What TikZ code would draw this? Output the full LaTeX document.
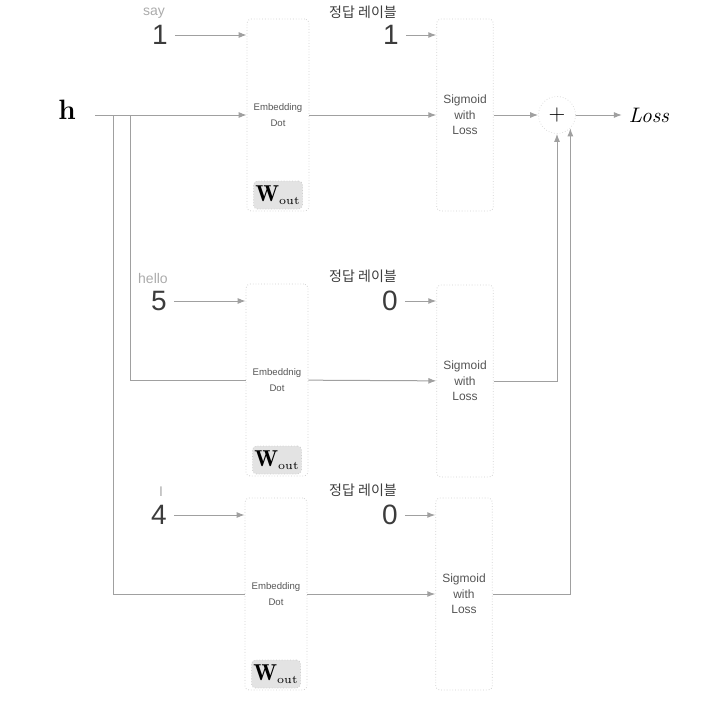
\documentclass[tikz,border=0pt]{standalone}
\usepackage{fontspec}
\setsansfont{Liberation Sans}
\newfontfamily\korfont{Noto Sans CJK KR}
\usetikzlibrary{positioning,arrows.meta,calc}
\definecolor{linegray}{HTML}{A0A0A0}
\definecolor{boxgray}{HTML}{CFCFCF}
\definecolor{textgray}{HTML}{555555}
\definecolor{numgray}{HTML}{3C3C3C}
\definecolor{wordgray}{HTML}{ABABAB}
\definecolor{wfill}{HTML}{E3E3E3}

\begin{document}
\begin{tikzpicture}[x=0.5pt,y=-0.5pt,
	line/.style={draw=linegray, line width=0.5pt},
	arr/.style={line, -{Latex[length=4pt,width=3pt]}},
	layer/.style={rectangle, rounded corners=2pt, draw=boxgray, densely dotted, minimum width=27.5pt, minimum height=96pt, align=center, text=textgray},
	embfont/.style={font=\sffamily\fontsize{4.8}{8}\selectfont},
	sigfont/.style={font=\sffamily\fontsize{6}{7.8}\selectfont},
	wbox/.style={rectangle, rounded corners=2pt, draw=boxgray, densely dotted, fill=wfill, minimum width=24.5pt, minimum height=14pt, inner sep=0pt, font=\fontsize{11.5}{11.5}\selectfont},
	num/.style={font=\sffamily\fontsize{14}{14}\selectfont, text=numgray},
	word/.style={font=\sffamily\fontsize{7}{7}\selectfont, text=wordgray},
	kor/.style={font=\korfont\fontsize{7}{7}\selectfont, text=numgray},
	sumnode/.style={circle, draw=boxgray!70, densely dotted, minimum size=18.5pt, inner sep=0pt, font=\fontsize{11}{11}\selectfont}
	]
	\useasboundingbox (0,0) rectangle (728,712);

	% input h
	\node [font=\fontsize{14}{14}\selectfont\bfseries] (h) at (67,110) {h};
	\coordinate (hs) at (95,115);
	\coordinate (br1) at (113,115);
	\coordinate (br2) at (130,115);

	% row 1 : say
	\node [layer, embfont] (emb1) at (278,115) {Embedding\\Dot};
	\node [wbox, above = 1pt of emb1.south] (w1) {$\mathbf{W}_{\scriptscriptstyle\mathrm{out}}$};
	\node [layer, sigfont] (sig1) at (465,115) {Sigmoid\\with\\Loss};
	\node [word] (say) at (154,13) {say};
	\node [num] (num1) at (160,35) {1};
	\node [kor] (kor1) at (363,12) {정답 레이블};
	\node [num] (lab1) at (391,35) {1};

	% row 2 : hello
	\node [layer, embfont] (emb2) at (277,380) {Embeddnig\\Dot};
	\node [wbox, above = 1pt of emb2.south] (w2) {$\mathbf{W}_{\scriptscriptstyle\mathrm{out}}$};
	\node [layer, sigfont] (sig2) at (465,381) {Sigmoid\\with\\Loss};
	\node [word] (hello) at (153,278) {hello};
	\node [num] (num2) at (159,301) {5};
	\node [kor] (kor2) at (363,276) {정답 레이블};
	\node [num] (lab2) at (390,301) {0};

	% row 3 : I
	\node [layer, embfont] (emb3) at (276,594) {Embedding\\Dot};
	\node [wbox, above = 1pt of emb3.south] (w3) {$\mathbf{W}_{\scriptscriptstyle\mathrm{out}}$};
	\node [layer, sigfont] (sig3) at (464,594) {Sigmoid\\with\\Loss};
	\node [word] (i) at (161,492) {I};
	\node [num] (num3) at (159,515) {4};
	\node [kor] (kor3) at (363,490) {정답 레이블};
	\node [num] (lab3) at (390,515) {0};

	% sum and loss
	\node [sumnode] (plus) at (557,115) {+};
	\node [font=\fontsize{10.5}{10.5}\selectfont\itshape, right = 23pt of plus] (loss) {Loss};

	% connectors
	\draw [arr] (hs) -- (emb1);
	\draw [line] (br2) |- (emb2);
	\draw [line] (br1) |- (emb3);
	\draw [arr] (num1) -- (num1 -| emb1.west);
	\draw [arr] (num2) -- (num2 -| emb2.west);
	\draw [arr] (num3) -- (num3 -| emb3.west);
	\draw [arr] (emb1) -- (sig1);
	\draw [arr] (emb2) -- (sig2);
	\draw [arr] (emb3) -- (sig3);
	\draw [arr] (lab1) -- (lab1 -| sig1.west);
	\draw [arr] (lab2) -- (lab2 -| sig2.west);
	\draw [arr] (lab3) -- (lab3 -| sig3.west);
	\draw [arr] (sig1) -- (plus);
	\draw [arr] (sig2) -| (plus);
	\draw [arr] (sig3) -| (plus.-45);
	\draw [arr] (plus) -- (loss);
\end{tikzpicture}
\end{document}
